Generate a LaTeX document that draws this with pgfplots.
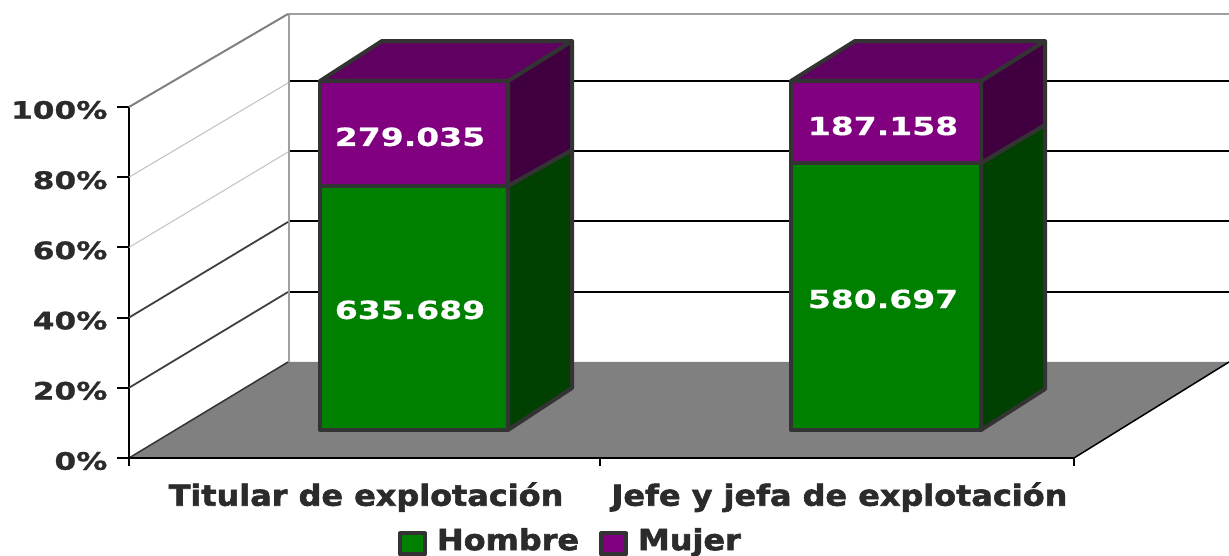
\documentclass[border=0pt]{standalone}
\usepackage{fontspec}
\setmainfont{DejaVu Sans}[FakeStretch=1.3, BoldFeatures={FakeBold=1.2}]
\newfontfamily\catfont{DejaVu Sans}[FakeStretch=1.1, BoldFeatures={FakeBold=2}]
\newfontfamily\valfont{DejaVu Sans}[FakeStretch=1.32, BoldFeatures={FakeBold=0.6}]
\usepackage{pgfplots}
\pgfplotsset{compat=1.18}
\definecolor{barline}{HTML}{333333}
\definecolor{hombre}{HTML}{008000}
\definecolor{hombreside}{HTML}{004000}
\definecolor{mujer}{HTML}{800080}
\definecolor{mujerside}{HTML}{400040}
\definecolor{mujertop}{HTML}{600060}
\definecolor{floorgray}{HTML}{808080}
\definecolor{wallgray}{HTML}{A0A0A0}
\definecolor{txt}{HTML}{2B2B2B}
\begin{document}
\begin{tikzpicture}
\path[use as bounding box] (-129pt,-98pt) rectangle (1100pt,458pt);
\begin{axis}[
    at={(0pt,0pt)},
    anchor=south west,
    scale only axis,
    width=945pt,
    height=351pt,
    xmin=129, xmax=1074,
    ymin=0, ymax=100,
    clip=false,
    axis lines=left,
    axis line style={-, line width=2pt, black},
    tick style={line width=2pt, black},
    tick align=outside,
    major tick length=12pt,
    xtick=\empty,
    extra x ticks={366,839.5},
    extra x tick labels={Titular de explotación,Jefe y jefa de explotación},
    extra x tick style={major tick length=0pt, tick style={draw=none},
        xticklabel style={yshift=-21pt}},
    x tick label style={font=\catfont\fontsize{29}{29}\selectfont\bfseries, text=txt, anchor=north},
    ytick={0,20,40,60,80,100},
    yticklabels={0\%,20\%,40\%,60\%,80\%,100\%},
    y tick label style={font=\fontsize{24}{24}\selectfont\bfseries, text=txt, yshift=-3pt, xshift=-6pt},
    legend columns=2,
    legend cell align=left,
    legend style={at={(axis cs:398,-19.4)}, anchor=north west, draw=none, fill=none,
        font=\catfont\fontsize{29}{29}\selectfont\bfseries, text=txt,
        inner sep=0pt, outer sep=0pt,
        /tikz/every odd column/.append style={column sep=8pt},
        /tikz/every even column/.append style={column sep=18pt}},
    legend image code/.code={\draw[#1] (2pt,-14.5pt) rectangle (27pt,6.5pt);},
    face/.style={line width=4pt, draw=barline, line join=round},
    % data labels inside the segments
    seglabel/.style={only marks, mark=none, forget plot, point meta=explicit symbolic,
        nodes near coords, nodes near coords align={center},
        every node near coord/.append style={font=\valfont\fontsize{25}{25}\selectfont\bfseries, text=white, anchor=center}},
]

% floor and walls
\addplot[forget plot, fill=floorgray, draw=none] coordinates {(129,0) (288,27.35) (1229,27.35) (1074,0)} -- cycle;
\addplot[forget plot, line width=1.5pt, black] coordinates {(1074,0) (1229,27.35)};
\addplot[forget plot, line width=1.5pt, black!80] coordinates {(129,0) (288,27.35)};
\addplot[forget plot, line width=2.5pt, wallgray] coordinates {(289,27.35) (289,126.5) (1229,126.5)};
\addplot[forget plot, line width=2pt, gray] coordinates {(129,100) (288,126.5)};
\addplot[forget plot, line width=1pt, black!25] coordinates {(129,80) (288,106.84)};
\addplot[forget plot, line width=1pt, black!25] coordinates {(129,60) (288,87.18)};
\addplot[forget plot, line width=1.8pt, black!75] coordinates {(129,40) (288,67.24)};
\addplot[forget plot, line width=1.8pt, black!75] coordinates {(129,20) (288,47.29)};
% back wall gridlines
\addplot[forget plot, line width=2pt, black] coordinates {(290,107.41) (1229,107.41)};
\addplot[forget plot, line width=2pt, black] coordinates {(290,87.46) (1229,87.46)};
\addplot[forget plot, line width=2pt, black] coordinates {(290,67.52) (1229,67.52)};
\addplot[forget plot, line width=2pt, black] coordinates {(290,47.29) (1229,47.29)};
% front axis line and its ticks
\addplot[forget plot, line width=2.5pt, black] coordinates {(129,0) (1074,0)};
\addplot[forget plot, line width=2pt, black] coordinates {(129,0) (129,-2.4)};
\addplot[forget plot, line width=2pt, black] coordinates {(600,0) (600,-2.4)};
\addplot[forget plot, line width=2pt, black] coordinates {(1074,0) (1074,-2.4)};

% bar 1 sides and top
\addplot[forget plot, face, fill=hombreside] coordinates {(508,77.49) (572,87.75) (572,19.94) (508,7.98)} -- cycle;
\addplot[forget plot, face, fill=mujerside] coordinates {(508,107.41) (572,118.8) (572,87.75) (508,77.49)} -- cycle;
\addplot[forget plot, face, fill=mujertop] coordinates {(320,107.41) (382,118.8) (572,118.8) (508,107.41)} -- cycle;
% bar 2 sides and top
\addplot[forget plot, face, fill=hombreside] coordinates {(981,84.05) (1045,94.87) (1045,19.66) (981,7.98)} -- cycle;
\addplot[forget plot, face, fill=mujerside] coordinates {(981,107.41) (1045,118.8) (1045,94.87) (981,84.05)} -- cycle;
\addplot[forget plot, face, fill=mujertop] coordinates {(791,107.41) (855,118.8) (1045,118.8) (981,107.41)} -- cycle;

% front faces
\addplot[face, fill=hombre] coordinates {(320,7.98) (508,7.98) (508,77.49) (320,77.49)} -- cycle;
\addlegendentry{Hombre}
\addplot[face, fill=mujer] coordinates {(320,77.49) (508,77.49) (508,107.41) (320,107.41)} -- cycle;
\addlegendentry{Mujer}
\addplot[forget plot, face, fill=hombre] coordinates {(791,7.98) (981,7.98) (981,84.05) (791,84.05)} -- cycle;
\addplot[forget plot, face, fill=mujer] coordinates {(791,84.05) (981,84.05) (981,107.41) (791,107.41)} -- cycle;

% values
\addplot[seglabel] coordinates {(410,42.2) [635.689] (410,91.5) [279.035] (883,45.3) [580.697] (883,94.6) [187.158]};
\end{axis}
\end{tikzpicture}
\end{document}
